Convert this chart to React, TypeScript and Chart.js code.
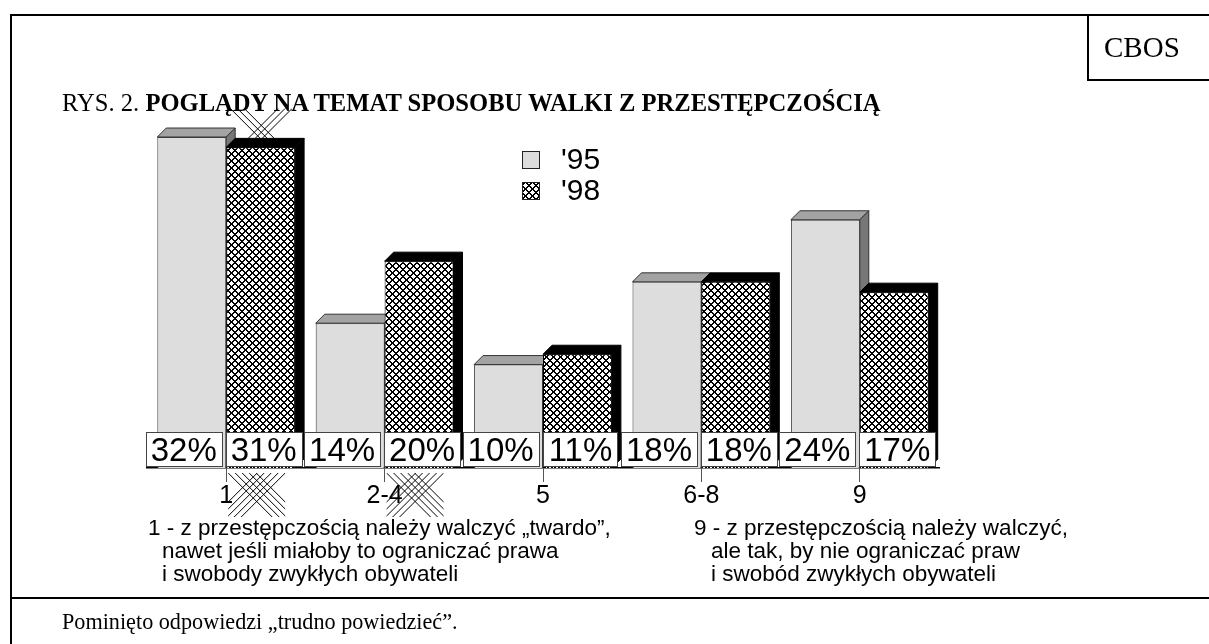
import React, { useEffect, useRef } from "react";
import { Chart, registerables } from "chart.js";

Chart.register(...registerables);

const categories = ["1", "2-4", "5", "6-8", "9"];
const series95 = [32, 14, 10, 18, 24];
const series98 = [31, 20, 11, 18, 17];
const seriesLabels = ["'95", "'98"];
const valueSuffix = "%";
const yMax = 35;

const titleNormal = "RYS. 2. ";
const titleBold = "POGLĄDY NA TEMAT SPOSOBU WALKI Z PRZESTĘPCZOŚCIĄ";
const leftNote = [
  "1 - z przestępczością należy walczyć „twardo”,",
  "nawet jeśli miałoby to ograniczać prawa",
  "i swobody zwykłych obywateli",
];
const rightNote = [
  "9 - z przestępczością należy walczyć,",
  "ale tak, by nie ograniczać praw",
  "i swobód zwykłych obywateli",
];
const footnote = "Pominięto odpowiedzi „trudno powiedzieć”.";
const brand = "CBOS";

function makeHatch(): CanvasPattern | string {
  const n = 7;
  const c = document.createElement("canvas");
  c.width = n;
  c.height = n;
  const ctx = c.getContext("2d");
  if (!ctx) return "#888";
  const img = ctx.createImageData(n, n);
  for (let y = 0; y < n; y++) {
    for (let x = 0; x < n; x++) {
      const a = (((x - y) % n) + n) % n;
      const b = (x + y) % n;
      const dark = a === 0 || a === 1 || b === 0 || b === n - 1;
      const v = dark ? 0 : 255;
      const k = (y * n + x) * 4;
      img.data[k] = v;
      img.data[k + 1] = v;
      img.data[k + 2] = v;
      img.data[k + 3] = 255;
    }
  }
  ctx.putImageData(img, 0, 0);
  return ctx.createPattern(c, "repeat") || "#888";
}

const DX = 9;
const DY = 9;

const depthPlugin = {
  id: "depth3d",
  beforeDatasetsDraw(chart: any) {
    const ctx = chart.ctx as CanvasRenderingContext2D;
    const styles = [
      { top: "#a3a3a3", side: "#777777", stroke: "#333333" },
      { top: "#000000", side: "#000000", stroke: "#000000" },
    ];
    [0, 1].forEach((di) => {
      const st = styles[di];
      const meta = chart.getDatasetMeta(di);
      meta.data.forEach((el: any) => {
        const { x, y, base, width } = el.getProps(["x", "y", "base", "width"], true);
        const L = x - width / 2;
        const R = x + width / 2;
        const T = y;
        const B = base;
        ctx.save();
        ctx.lineWidth = 1;
        ctx.strokeStyle = st.stroke;
        ctx.beginPath();
        ctx.moveTo(L, T);
        ctx.lineTo(L + DX, T - DY);
        ctx.lineTo(R + DX, T - DY);
        ctx.lineTo(R, T);
        ctx.closePath();
        ctx.fillStyle = st.top;
        ctx.fill();
        ctx.stroke();
        ctx.beginPath();
        ctx.moveTo(R, T);
        ctx.lineTo(R + DX, T - DY);
        ctx.lineTo(R + DX, B - DY);
        ctx.lineTo(R, B);
        ctx.closePath();
        ctx.fillStyle = st.side;
        ctx.fill();
        ctx.stroke();
        ctx.restore();
      });
    });
  },
};

function xHatch(ctx: CanvasRenderingContext2D, x0: number, y0: number, w: number, h: number, n: number, s: number) {
  ctx.save();
  ctx.beginPath();
  ctx.rect(x0, y0, w, h);
  ctx.clip();
  ctx.beginPath();
  for (let i = 0; i < n; i++) {
    const a = x0 + i * s;
    ctx.moveTo(a, y0);
    ctx.lineTo(a + h, y0 + h);
    const b = x0 + w - i * s;
    ctx.moveTo(b, y0);
    ctx.lineTo(b - h, y0 + h);
  }
  ctx.strokeStyle = "#000";
  ctx.lineWidth = 1;
  ctx.stroke();
  ctx.restore();
}

const labelPlugin = {
  id: "valueBoxes",
  afterDatasetsDraw(chart: any) {
    const ctx = chart.ctx as CanvasRenderingContext2D;
    const area = chart.chartArea;
    const offsets = [-8, 3];
    ctx.save();
    ctx.font = "33px 'Liberation Sans', Arial, sans-serif";
    ctx.textAlign = "center";
    ctx.textBaseline = "middle";
    [0, 1].forEach((di) => {
      const meta = chart.getDatasetMeta(di);
      const values = chart.data.datasets[di].data as number[];
      meta.data.forEach((el: any, i: number) => {
        const { x } = el.getProps(["x"], true);
        const txt = values[i] + valueSuffix;
        const tw = ctx.measureText(txt).width;
        const bw = Math.round(tw + 10);
        const bh = 34;
        const cx = x + offsets[di];
        const bx = Math.round(cx - bw / 2) + 0.5;
        const by = Math.round(area.bottom - 2 - bh) + 0.5;
        ctx.fillStyle = "#ffffff";
        ctx.fillRect(bx, by, bw, bh);
        ctx.strokeStyle = "#444444";
        ctx.lineWidth = 1;
        ctx.strokeRect(bx, by, bw, bh);
        ctx.fillStyle = "#000000";
        ctx.fillText(txt, cx, by + bh / 2 + 2);
      });
    });
    ctx.restore();
    // stray hatch remnants around the first two '98 bars
    const m98 = chart.getDatasetMeta(1);
    [0, 1].forEach((i) => {
      const el = m98.data[i];
      if (!el) return;
      const { x, width } = el.getProps(["x", "width"], true);
      const L = x - width / 2 + 2;
      xHatch(ctx, L, area.bottom + 5, 57, 44, 5, 7);
    });
    const first = m98.data[0];
    if (first) {
      const { x, y, width } = first.getProps(["x", "y", "width"], true);
      const L = x - width / 2 + 4;
      xHatch(ctx, L, y - DY - 30, 62, 30, 3, 7);
    }
  },
};

const legendPlugin = {
  id: "boxLegend",
  afterDraw(chart: any) {
    const ctx = chart.ctx as CanvasRenderingContext2D;
    ctx.save();
    chart.data.datasets.forEach((ds: any, i: number) => {
      const bx = 522.5;
      const by = 151.5 + i * 31;
      const s = 17;
      ctx.fillStyle = ds.backgroundColor;
      ctx.fillRect(bx, by, s, s);
      ctx.strokeStyle = "#222";
      ctx.lineWidth = 1;
      ctx.strokeRect(bx, by, s, s);
      ctx.fillStyle = "#000";
      ctx.font = "30px 'Liberation Sans', Arial, sans-serif";
      ctx.textAlign = "left";
      ctx.textBaseline = "middle";
      ctx.fillText(ds.label, 561, by + s / 2 + 1);
    });
    ctx.restore();
  },
};

const sans = "'Liberation Sans', Arial, sans-serif";
const serif = "'Liberation Serif', 'Times New Roman', serif";

export default function App() {
  const ref = useRef<HTMLCanvasElement>(null);

  useEffect(() => {
    const canvas = ref.current;
    if (!canvas) return;
    const hatch = makeHatch();
    const chart = new Chart(canvas, {
      type: "bar",
      data: {
        labels: categories,
        datasets: [
          {
            label: seriesLabels[0],
            data: series95,
            backgroundColor: "#dddddd",
            borderColor: "#3a3a3a",
            borderWidth: 1,
          },
          {
            label: seriesLabels[1],
            data: series98,
            backgroundColor: hatch as any,
            borderColor: "#000000",
            borderWidth: 1,
          },
        ],
      },
      options: {
        responsive: false,
        animation: false,
        devicePixelRatio: 1,
        events: [],
        layout: { padding: { left: 147, right: 270, top: 106, bottom: 136 } },
        datasets: { bar: { categoryPercentage: 0.87, barPercentage: 1 } },
        plugins: {
          legend: { display: false },
          tooltip: { enabled: false },
          title: { display: false },
        },
        scales: {
          x: {
            grid: {
              display: true,
              drawOnChartArea: false,
              drawTicks: true,
              offset: false,
              tickLength: 14,
              tickColor: "#555555",
              tickWidth: 1,
            },
            border: { display: true, color: "#000000", width: 1.5 },
            ticks: {
              color: "#000000",
              font: { family: sans, size: 25 },
              padding: -1,
              maxRotation: 0,
            },
            afterFit: (s: any) => {
              s.height = 40;
            },
          },
          y: { display: false, min: 0, max: yMax },
        },
      } as any,
      plugins: [depthPlugin, labelPlugin, legendPlugin],
    });
    return () => chart.destroy();
  }, []);

  const line = (style: React.CSSProperties) => (
    <div style={{ position: "absolute", background: "#000", ...style }} />
  );

  const text = (content: React.ReactNode, style: React.CSSProperties) => (
    <div style={{ position: "absolute", whiteSpace: "pre", color: "#000", ...style }}>{content}</div>
  );

  return (
    <div
      style={{
        position: "absolute",
        left: 0,
        top: 0,
        width: 1209,
        height: 644,
        background: "#fff",
        overflow: "hidden",
      }}
    >
      <canvas
        ref={ref}
        width={1209}
        height={644}
        style={{ position: "absolute", left: 0, top: 0, width: 1209, height: 644 }}
      />
      {line({ left: 10, top: 14, width: 1199, height: 2 })}
      {line({ left: 10, top: 14, width: 2, height: 630 })}
      {line({ left: 1087, top: 14, width: 2, height: 66 })}
      {line({ left: 1087, top: 79, width: 122, height: 2 })}
      {line({ left: 10, top: 597, width: 1199, height: 2 })}
      {text(brand, { left: 1104, top: 33, fontFamily: serif, fontSize: 29, lineHeight: "29px" })}
      {text(
        <>
          <span>{titleNormal}</span>
          <b>{titleBold}</b>
        </>,
        { left: 62, top: 91, fontFamily: serif, fontSize: 24.6, lineHeight: "24px" }
      )}
      {leftNote.map((t, i) =>
        text(t, {
          left: i === 0 ? 148 : 162,
          top: 516 + i * 23,
          fontFamily: sans,
          fontSize: 22.5,
          lineHeight: "23px",
        })
      )}
      {rightNote.map((t, i) =>
        text(t, {
          left: i === 0 ? 694 : 711,
          top: 516 + i * 23,
          fontFamily: sans,
          fontSize: 22.5,
          lineHeight: "23px",
        })
      )}
      {text(footnote, { left: 62, top: 611, fontFamily: serif, fontSize: 22.2, lineHeight: "22px" })}
    </div>
  );
}
